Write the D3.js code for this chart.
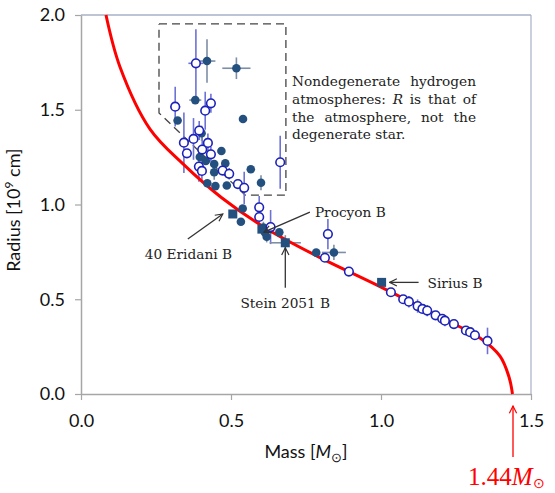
<!DOCTYPE html>
<html>
<head>
<meta charset="utf-8">
<title>White dwarf mass-radius</title>
<script src="https://d3js.org/d3.v7.min.js"></script>
<style>
  body { margin: 0; background: #fff; }
  .tick text { font-family: Lato, "Open Sans", sans-serif; font-size: 18px; fill: #111; }
  .serif { font-family: "DejaVu Serif", "Liberation Serif", serif; fill: #222; font-size: 13.7px; }
</style>
</head>
<body>
<div id="chart"></div>
<script>
// mass [Msun], radius [1e9 cm]
var curveMass   = [0.0833, 0.13, 0.23, 0.34, 0.47, 0.62, 0.7867, 0.9967, 1.2133, 1.33, 1.3967, 1.4267, 1.4383];
var curveRadius = [2.0, 1.726, 1.398, 1.214, 1.034, 0.871, 0.728, 0.567, 0.393, 0.296, 0.2, 0.09, 0.0];

// open symbols: [mass, radius, massErr, radiusErr]
var openStars = [
  [0.383, 1.745, 0.025, 0.18], [0.314, 1.516, 0.017, 0.105], [0.433, 1.534, 0, 0.05],
  [0.414, 1.495, 0, 0.1], [0.394, 1.39, 0, 0.05], [0.375, 1.346, 0, 0.11],
  [0.343, 1.326, 0, 0.16], [0.423, 1.325, 0, 0.05], [0.353, 1.27, 0, 0],
  [0.404, 1.29, 0, 0.12], [0.433, 1.265, 0, 0.04], [0.393, 1.2, 0, 0.08],
  [0.403, 1.177, 0, 0.05], [0.472, 1.179, 0, 0], [0.494, 1.162, 0, 0.03],
  [0.523, 1.108, 0, 0], [0.544, 1.088, 0, 0.085], [0.664, 1.223, 0, 0.14],
  [0.594, 0.985, 0, 0.06], [0.594, 0.934, 0, 0.04], [0.632, 0.881, 0, 0.09],
  [0.823, 0.844, 0, 0.08], [0.813, 0.719, 0, 0], [0.893, 0.646, 0, 0],
  [1.033, 0.537, 0, 0.02], [1.074, 0.5, 0, 0], [1.093, 0.487, 0, 0.03],
  [1.122, 0.464, 0, 0.035], [1.138, 0.449, 0, 0], [1.154, 0.44, 0, 0.03],
  [1.182, 0.415, 0, 0], [1.204, 0.397, 0, 0], [1.213, 0.387, 0, 0.03],
  [1.243, 0.369, 0, 0], [1.283, 0.335, 0, 0], [1.297, 0.326, 0, 0],
  [1.313, 0.31, 0, 0], [1.355, 0.28, 0, 0.07]
];

// filled symbols: [mass, radius, massErr, radiusErr]
var filledStars = [
  [0.42, 1.757, 0.028, 0.115], [0.518, 1.719, 0.047, 0.057], [0.381, 1.551, 0.02, 0],
  [0.322, 1.443, 0, 0], [0.54, 1.451, 0, 0], [0.402, 1.376, 0, 0.04],
  [0.468, 1.282, 0, 0], [0.396, 1.251, 0, 0.04], [0.416, 1.23, 0, 0],
  [0.481, 1.217, 0, 0], [0.444, 1.214, 0, 0], [0.444, 1.17, 0, 0.04],
  [0.566, 1.186, 0, 0], [0.421, 1.112, 0, 0], [0.448, 1.097, 0, 0],
  [0.486, 1.1, 0, 0], [0.6, 1.115, 0, 0.04], [0.539, 0.979, 0, 0],
  [0.533, 0.909, 0, 0], [0.608, 0.879, 0, 0.03], [0.613, 0.852, 0, 0],
  [0.619, 0.83, 0, 0.03], [0.661, 0.853, 0, 0], [0.784, 0.746, 0, 0],
  [0.843, 0.747, 0.04, 0.04]
];

// named stars (squares): [name, mass, radius, massErr, radiusErr]
var namedStars = [
  ["40 Eridani B", 0.506, 0.95, 0, 0],
  ["Procyon B", 0.603, 0.87, 0, 0],
  ["Stein 2051 B", 0.681, 0.798, 0.052, 0.04],
  ["Sirius B", 1.002, 0.589, 0, 0]
];

// dashed region of nondegenerate-atmosphere stars
var boxMass   = [0.26, 0.683, 0.683, 0.547, 0.26, 0.26];
var boxRadius = [1.953, 1.953, 1.05, 1.05, 1.483, 1.953];

var noteLines = ["Nondegenerate hydrogen", "atmospheres: R is that of", "the atmosphere, not the", "degenerate star."];

var xTicks = [0, 0.5, 1.0, 1.5];
var yTicks = [0, 0.5, 1.0, 1.5, 2.0];

var margin = { top: 15, right: 24, bottom: 99, left: 81 },
    width = 555 - margin.left - margin.right,
    height = 493 - margin.top - margin.bottom;

var x = d3.scaleLinear().domain([0, 1.5]).range([0, width]);
var y = d3.scaleLinear().domain([0, 2.0]).range([height, 0]);

var svgRoot = d3.select("#chart").append("svg")
    .attr("width", 555).attr("height", 493);

var defs = svgRoot.append("defs");
function arrowMarker(id, color) {
  defs.append("marker")
    .attr("id", id).attr("viewBox", "0 0 10 10")
    .attr("refX", 9).attr("refY", 5)
    .attr("markerWidth", 7).attr("markerHeight", 7)
    .attr("orient", "auto-start-reverse")
    .append("path").attr("d", "M1,1 L9,5 L1,9").attr("fill", "none")
    .attr("stroke", color).attr("stroke-width", 1.3);
}
arrowMarker("arrowGray", "#333");
arrowMarker("arrowRed", "#ff0000");

var svg = svgRoot.append("g")
    .attr("transform", "translate(" + margin.left + "," + margin.top + ")");

// frame top and right
svg.append("line").attr("x1", 0).attr("x2", width).attr("y1", 0).attr("y2", 0)
    .attr("stroke", "#a9b0c4").attr("stroke-width", 1.5);
svg.append("line").attr("x1", width).attr("x2", width).attr("y1", 0).attr("y2", height)
    .attr("stroke", "#a9b0c4").attr("stroke-width", 1.2);

// axes
var xAxis = svg.append("g").attr("transform", "translate(0," + height + ")")
    .call(d3.axisBottom(x).tickValues(xTicks).tickFormat(d3.format(".1f")).tickSize(6).tickSizeOuter(0).tickPadding(14));
var yAxis = svg.append("g")
    .call(d3.axisLeft(y).tickValues(yTicks).tickFormat(d3.format(".1f")).tickSize(6).tickSizeOuter(0).tickPadding(10));
[xAxis, yAxis].forEach(function (a) {
  a.select(".domain").attr("stroke", "#a6a6a6").attr("stroke-width", 1.5);
  a.selectAll(".tick line").attr("stroke", "#a6a6a6").attr("stroke-width", 1.2);
});

// dashed box
svg.append("path")
    .attr("d", d3.line()(boxMass.map(function (m, i) { return [x(m), y(boxRadius[i])]; })))
    .attr("fill", "none").attr("stroke", "#444").attr("stroke-width", 1.3)
    .attr("stroke-dasharray", "8,5");

// error bars
function errorBars(data, color, mi, ri, mei, rei) {
  var g = svg.append("g").attr("stroke", color).attr("stroke-width", 1.6);
  data.forEach(function (d) {
    if (d[rei] > 0) g.append("line").attr("x1", x(d[mi])).attr("x2", x(d[mi]))
        .attr("y1", y(d[ri] - d[rei])).attr("y2", y(d[ri] + d[rei]));
    if (d[mei] > 0) g.append("line").attr("y1", y(d[ri])).attr("y2", y(d[ri]))
        .attr("x1", x(d[mi] - d[mei])).attr("x2", x(d[mi] + d[mei]));
  });
}
errorBars(openStars, "#6d72d4", 0, 1, 2, 3);
errorBars(filledStars, "#7d8ea6", 0, 1, 2, 3);
errorBars(namedStars, "#7d8ea6", 1, 2, 3, 4);

// mass-radius curve
var curvePts = curveMass.map(function (m, i) { return [m, curveRadius[i]]; });
svg.append("path")
    .attr("d", d3.line().x(function (d) { return x(d[0]); }).y(function (d) { return y(d[1]); })
      .curve(d3.curveCatmullRom.alpha(0.5))(curvePts))
    .attr("fill", "none").attr("stroke", "#ff0000").attr("stroke-width", 3);

// filled stars
svg.selectAll(".filled").data(filledStars).enter().append("circle")
    .attr("class", "filled")
    .attr("cx", function (d) { return x(d[0]); })
    .attr("cy", function (d) { return y(d[1]); })
    .attr("r", 4.3).attr("fill", "#24507f");

// named squares
svg.selectAll(".named").data(namedStars).enter().append("rect")
    .attr("class", "named")
    .attr("x", function (d) { return x(d[1]) - 4.5; })
    .attr("y", function (d) { return y(d[2]) - 4.5; })
    .attr("width", 9).attr("height", 9).attr("fill", "#24507f");

// open stars
svg.selectAll(".open").data(openStars).enter().append("circle")
    .attr("class", "open")
    .attr("cx", function (d) { return x(d[0]); })
    .attr("cy", function (d) { return y(d[1]); })
    .attr("r", 4.3).attr("fill", "#fff").attr("stroke", "#1d22b8").attr("stroke-width", 1.6);

// note text, justified word by word
var noteX = 211, noteW = 184;
noteLines.forEach(function (line, i) {
  var words = line.split(" ");
  var g = svg.append("text").attr("class", "serif").attr("y", 71 + i * 17.8);
  var spans = words.map(function (w) {
    var t = g.append("tspan").text(w);
    if (w === "R") t.style("font-style", "italic");
    return t;
  });
  var widths = spans.map(function (t) { return t.node().getComputedTextLength(); });
  var total = d3.sum(widths);
  var gap = (i < 3) ? Math.max(4.4, (noteW - total) / (words.length - 1)) : 4.4;
  var cx = noteX;
  spans.forEach(function (t, k) {
    t.attr("x", cx);
    cx += widths[k] + gap;
  });
});

// star labels with arrows
function labelArrow(x1, y1, x2, y2, color, marker) {
  svg.append("line").attr("x1", x1).attr("y1", y1).attr("x2", x2).attr("y2", y2)
    .attr("stroke", color).attr("stroke-width", 1.3).attr("marker-end", "url(#" + marker + ")");
}
var er = namedStars[0], pr = namedStars[1], st = namedStars[2], si = namedStars[3];
svg.append("text").attr("class", "serif")
    .attr("x", x(er[1]) - 88).attr("y", y(er[2]) + 45).text(er[0]);
labelArrow(x(er[1]) - 45, y(er[2]) + 25, x(er[1]) - 10, y(er[2]), "#333", "arrowGray");

svg.append("text").attr("class", "serif")
    .attr("x", x(pr[1]) + 53).attr("y", y(pr[2]) - 12).text(pr[0]);
labelArrow(x(pr[1]) + 48, y(pr[2]) - 17, x(pr[1]) + 2, y(pr[2]) + 3, "#333", "arrowGray");

svg.append("text").attr("class", "serif")
    .attr("text-anchor", "middle")
    .attr("x", x(st[1])).attr("y", y(st[2]) + 65).text(st[0]);
labelArrow(x(st[1]), y(st[2]) + 45, x(st[1]), y(st[2]) + 5, "#333", "arrowGray");

svg.append("text").attr("class", "serif")
    .attr("x", x(si[1]) + 46).attr("y", y(si[2]) + 6).text(si[0]);
labelArrow(x(si[1]) + 37, y(si[2]), x(si[1]) + 8, y(si[2]), "#333", "arrowGray");

// Chandrasekhar limit marker
var mCh = 1.44;
labelArrow(x(mCh), height + 63, x(mCh), height + 12, "#ff0000", "arrowRed");
var lim = svg.append("text").style("font-family", "'Liberation Serif', serif").style("font-size", "25px")
    .style("fill", "#ff0000")
    .attr("x", x(mCh) - 45).attr("y", height + 91);
lim.append("tspan").text("1.44");
lim.append("tspan").style("font-style", "italic").text("M");
lim.append("tspan").attr("dy", 3).style("font-size", "14px").text("\u2299");

// axis titles
var xl = svg.append("text").attr("text-anchor", "middle")
    .attr("x", x(0.75)).attr("y", height + 64)
    .style("font-family", "Lato, 'Open Sans', sans-serif").style("font-size", "18px").attr("fill", "#111");
xl.append("tspan").text("Mass [");
xl.append("tspan").style("font-style", "italic").text("M");
xl.append("tspan").attr("dy", 4).style("font-size", "13px").text("\u2299");
xl.append("tspan").attr("dy", -4).text("]");

var yl = svg.append("text").attr("text-anchor", "middle")
    .attr("transform", "translate(" + (-61) + "," + y(0.97) + ") rotate(-90)")
    .style("font-family", "Lato, 'Open Sans', sans-serif").style("font-size", "18px").attr("fill", "#111");
yl.append("tspan").text("Radius [10");
yl.append("tspan").attr("dy", -7).style("font-size", "12px").text("9");
yl.append("tspan").attr("dy", 7).text(" cm]");
</script>
</body>
</html>
